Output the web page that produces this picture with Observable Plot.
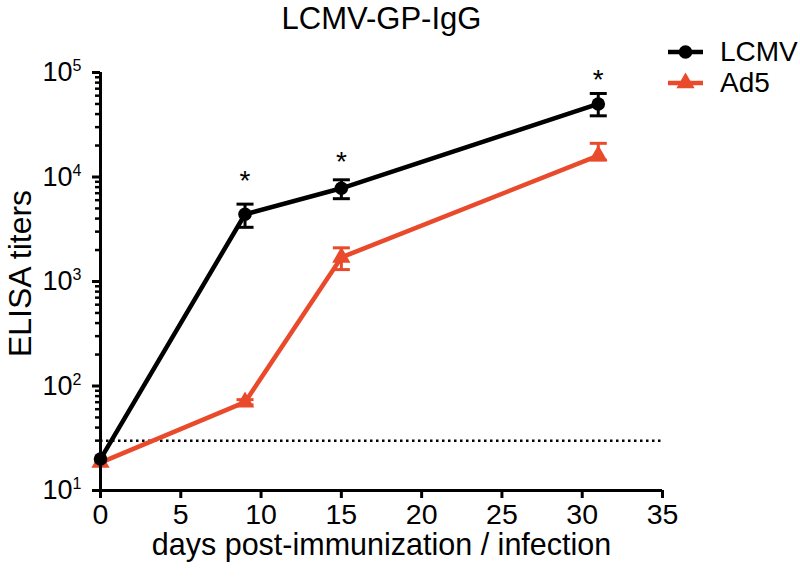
<!DOCTYPE html>
<html><head><meta charset="utf-8">
<script src="https://cdn.jsdelivr.net/npm/d3@7"></script>
<script src="https://cdn.jsdelivr.net/npm/@observablehq/plot@0.6"></script>
<style>body{margin:0;background:#fff} #chart{width:800px;height:579px}</style>
</head><body><div id="chart"></div>
<script>
// ---- data ----
const days = [0, 9, 15, 31];
const lcmvMean = [20, 4400, 7800, 50000];
const lcmvLow = [20, 3300, 6200, 38500];
const lcmvHigh = [20, 5500, 9400, 63000];
const ad5Mean = [18.5, 70, 1700, 16000];
const ad5Low = [18.5, 66, 1300, 14500];
const ad5High = [18.5, 74, 2100, 21000];
const starDays = [9, 15, 31];
const starY = [11000, 16500, 100000];
const detectionLimit = [30];
const xTicks = [0, 5, 10, 15, 20, 25, 30, 35];
const yMajorTicks = [10, 100, 1000, 10000, 100000];
const yMinorTicks = [20,30,40,50,60,70,80,90, 200,300,400,500,600,700,800,900,
  2000,3000,4000,5000,6000,7000,8000,9000, 20000,30000,40000,50000,60000,70000,80000,90000];
const seriesNames = ["LCMV", "Ad5"];
const seriesColors = ["#000000", "#ea4a2c"];
const seriesSymbols = ["circle", "triangle"];
const titleText = "LCMV-GP-IgG";
const xLabel = "days post-immunization / infection";
const yLabel = "ELISA titers";

function rows(mean, lo, hi) {
  return days.map((d, i) => ({day: d, mean: mean[i], lo: lo[i], hi: hi[i]}));
}
const lcmvRows = rows(lcmvMean, lcmvLow, lcmvHigh);
const ad5Rows = rows(ad5Mean, ad5Low, ad5High);

const capSymbol = {draw(ctx, size) { const w = Math.sqrt(size); ctx.moveTo(-w, 0); ctx.lineTo(w, 0); }};

function seriesMarks(data, color, symbol) {
  const withErr = data.filter(d => d.hi > d.lo);
  return [
    Plot.line(data, {x: "day", y: "mean", stroke: color, strokeWidth: 4.5}),
    Plot.ruleX(withErr, {x: "day", y1: "lo", y2: "hi", stroke: color, strokeWidth: 3}),
    Plot.dot(withErr, {x: "day", y: "hi", symbol: capSymbol, r: 4.8, fill: "none", stroke: color, strokeWidth: 3}),
    Plot.dot(withErr, {x: "day", y: "lo", symbol: capSymbol, r: 4.8, fill: "none", stroke: color, strokeWidth: 3}),
    Plot.dot(data, {x: "day", y: "mean", symbol: symbol, r: 6.8, fill: color, stroke: "none"})
  ];
}

const font = "'Liberation Sans', Arial, Helvetica, sans-serif";
const svg = Plot.plot({
  width: 800, height: 579,
  marginLeft: 100, marginRight: 138, marginTop: 72, marginBottom: 89,
  style: {fontFamily: font, fontSize: "28px", color: "#000", background: "#fff"},
  x: {domain: [0, 35]},
  y: {type: "log", domain: [10, 100000]},
  marks: [
    Plot.ruleY(detectionLimit, {stroke: "#000", strokeWidth: 2.5, strokeDasharray: "2.5,3.5"}),
    ...seriesMarks(ad5Rows, seriesColors[1], seriesSymbols[1]),
    ...seriesMarks(lcmvRows, seriesColors[0], seriesSymbols[0]),
    Plot.axisX({ticks: xTicks, tickSize: 8, tickPadding: 5, strokeWidth: 3, label: null, tickFormat: d => String(d)}),
    Plot.axisY({ticks: yMinorTicks, tickSize: 5, strokeWidth: 2.5, tickFormat: () => "", label: null}),
    Plot.axisY({ticks: yMajorTicks, tickSize: 8, tickPadding: 11, strokeWidth: 3, label: null,
      tickFormat: d => String(Math.round(Math.log10(d)))}),
    Plot.ruleX([0], {strokeWidth: 3}),
    Plot.ruleY([10], {strokeWidth: 3}),
    Plot.text(starDays, {x: d => d, y: (d, i) => starY[i], text: () => "*", fontSize: 28, dy: 8}),
    Plot.text([titleText], {frameAnchor: "top", dy: -53, fontSize: 31, lineAnchor: "middle", textAnchor: "middle"}),
    Plot.text([xLabel], {frameAnchor: "bottom", dy: 55, fontSize: 30.5, lineAnchor: "middle", textAnchor: "middle"}),
    Plot.text([yLabel], {frameAnchor: "left", dx: -80, dy: -8, rotate: -90, fontSize: 32, lineAnchor: "middle", textAnchor: "middle"})
  ]
});

const root = d3.select(svg);
const setSize = (label, px) => root.selectAll(`g[aria-label="${label}"]`)
  .style("font-size", px + "px").selectAll("text").style("font-size", px + "px");
setSize("x-axis tick label", 28.5);
setSize("y-axis tick label", 27);

// superscript exponents on the log axis
root.selectAll('g[aria-label="y-axis tick label"] text').each(function() {
  const t = this.textContent.trim();
  if (!t) return;
  const sel = d3.select(this);
  sel.text("");
  sel.append("tspan").text("10");
  sel.append("tspan").attr("dy", "-10").style("font-size", "16px").text(t);
});

// legend
const lg = root.append("g").attr("font-family", font).attr("text-anchor", "start");
seriesNames.forEach((name, i) => {
  const y = [52, 83][i];
  const g = lg.append("g").attr("transform", `translate(668,${y})`);
  g.append("line").attr("x1", 0).attr("x2", 35).attr("stroke", seriesColors[i]).attr("stroke-width", 4.5);
  const type = seriesSymbols[i] === "circle" ? d3.symbolCircle : d3.symbolTriangle;
  g.append("path").attr("transform", "translate(17.5,0)")
    .attr("d", d3.symbol(type, 6.8 * 6.8 * Math.PI)()).attr("fill", seriesColors[i]);
  g.append("text").attr("x", 52).attr("dy", "0.32em").style("font-size", "28px")
    .attr("text-anchor", "start").attr("fill", "#000").text(name);
});

document.getElementById("chart").appendChild(svg);
</script>
</body></html>
